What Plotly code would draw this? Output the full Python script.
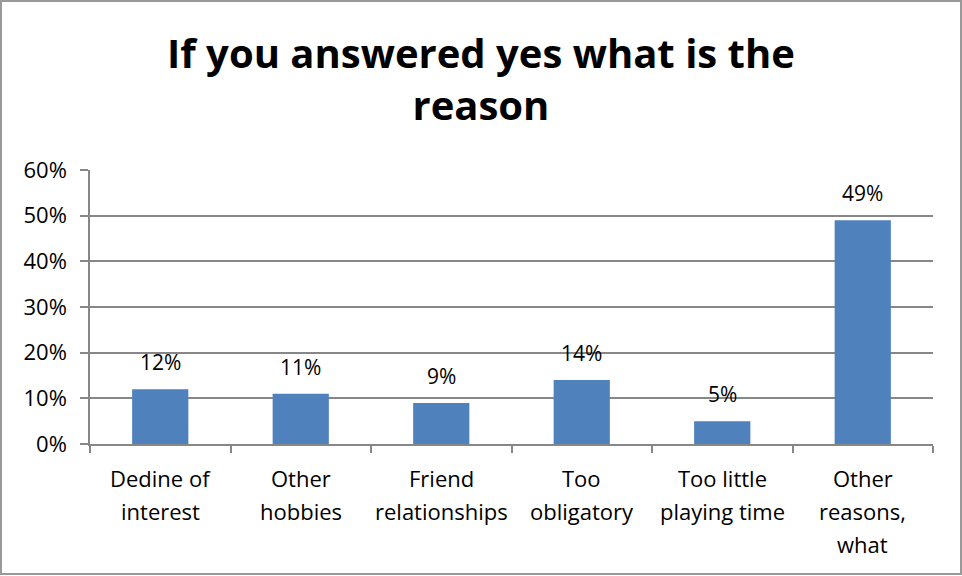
import plotly.graph_objects as go

categories = ["Dedine of<br>interest", "Other<br>hobbies", "Friend<br>relationships",
              "Too<br>obligatory", "Too little<br>playing time", "Other<br>reasons,<br>what"]
values = [0.12, 0.11, 0.09, 0.14, 0.05, 0.49]
y_ticks = [0, 0.1, 0.2, 0.3, 0.4, 0.5, 0.6]
y_tick_labels = ["0%", "10%", "20%", "30%", "40%", "50%", "60%"]
title_text = "If you answered yes what is the<br>reason"

W, H = 962, 576
L, R, T, B = 90, 29, 170, 132
FONT = "Open Sans, sans-serif"
GRID = "#878787"
pw, ph = W - L - R, H - T - B


def px_x(x):
    return (x - L) / pw


def px_y(y):
    return (H - B - y) / ph


fig = go.Figure(go.Bar(
    x=categories, y=values,
    marker=dict(color="#4F81BD", line=dict(width=0)),
    width=0.4,
    hoverinfo="skip",
))

# value labels above each bar
for c, v in zip(categories, values):
    fig.add_annotation(x=c, y=v, text=f"{round(v * 100)}%", showarrow=False,
                       yanchor="bottom", yshift=11,
                       font=dict(family=FONT, size=21, color="#000000"))

# category labels, one annotation per line for wider line spacing
for c in categories:
    for i, line in enumerate(c.split("<br>")):
        fig.add_annotation(x=c, xref="x", yref="paper", y=px_y(478 + 33 * i),
                           text=line, showarrow=False, yanchor="middle",
                           font=dict(family=FONT, size=22, color="#000000"))

# chart title
fig.add_annotation(xref="paper", yref="paper", x=px_x(481), y=px_y(79),
                   text=title_text, showarrow=False, xanchor="center", yanchor="middle",
                   font=dict(family=FONT, size=40, color="#000000", weight="bold"))

# outer chart border
fig.add_shape(type="rect", xref="paper", yref="paper",
              x0=px_x(1), x1=px_x(W - 1), y0=px_y(H - 2), y1=px_y(1),
              line=dict(color="#999999", width=2), layer="below")

fig.update_layout(
    width=W, height=H,
    margin=dict(l=L, r=R, t=T, b=B),
    paper_bgcolor="white", plot_bgcolor="white",
    showlegend=False,
    xaxis=dict(
        type="category", range=[-0.5, 5.5],
        showline=True, linecolor=GRID, linewidth=1.5,
        ticks="outside", tickson="boundaries", ticklen=7, tickcolor=GRID, tickwidth=1.5,
        showgrid=False, showticklabels=False,
    ),
    yaxis=dict(
        range=[0, 0.6], tickvals=y_ticks, ticktext=y_tick_labels,
        showline=True, linecolor=GRID, linewidth=1.5,
        ticks="outside", ticklen=8, tickcolor=GRID, tickwidth=1.5,
        showgrid=True, gridcolor=GRID, gridwidth=1.5,
        zeroline=False, ticklabelstandoff=9,
        tickfont=dict(family=FONT, size=22, color="#000000"),
    ),
)

fig.write_html("out.html")
